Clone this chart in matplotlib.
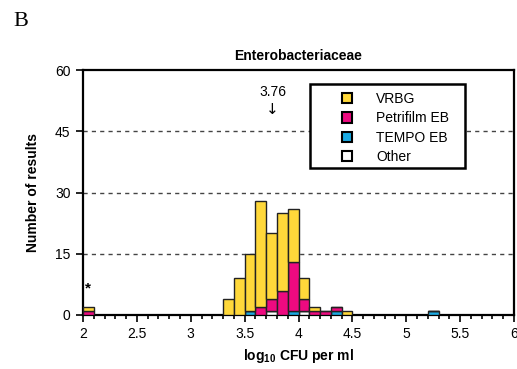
import matplotlib
matplotlib.use('Agg')
import matplotlib.pyplot as plt
from matplotlib.patches import Patch, Rectangle
from matplotlib.ticker import MultipleLocator

plt.rcParams['font.family'] = ['Liberation Sans', 'DejaVu Sans']
plt.rcParams['mathtext.fontset'] = 'custom'
plt.rcParams['mathtext.rm'] = 'Liberation Sans'
plt.rcParams['mathtext.bf'] = 'Liberation Sans:bold'

# left edges of 0.1 log bins
bins = [2.0, 3.3, 3.4, 3.5, 3.6, 3.7, 3.8, 3.9, 4.0, 4.1, 4.2, 4.3, 4.4, 5.2]
other = [0, 0, 0, 0, 0, 1, 0, 0, 1, 0, 0, 0, 0, 0]
tempo = [0, 0, 0, 1, 0, 0, 0, 1, 0, 0, 0, 1, 0, 1]
petrifilm = [1, 0, 0, 0, 2, 3, 6, 12, 3, 1, 1, 1, 0, 0]
vrbg = [1, 4, 9, 14, 26, 16, 19, 13, 5, 1, 0, 0, 1, 0]

median = 3.76
yticks = [0, 15, 30, 45, 60]

c_vrbg = '#FFD83A'
c_petri = '#EE0A80'
c_tempo = '#1AAAE2'
c_other = 'white'

fig = plt.figure(figsize=(5.17, 3.69), dpi=100)
ax = fig.add_axes([83/517, 1-315/369, (514-83)/517, (315-70)/369])

series = [(other, c_other), (tempo, c_tempo), (petrifilm, c_petri), (vrbg, c_vrbg)]
bottom = [0]*len(bins)
for vals, col in series:
    ax.bar(bins, vals, width=0.1, bottom=bottom, align='edge', color=col,
           edgecolor='#222222', linewidth=1.0, zorder=3)
    bottom = [b + v for b, v in zip(bottom, vals)]

ax.set_xlim(2, 6)
ax.set_ylim(0, 60)
ax.xaxis.set_minor_locator(MultipleLocator(0.1))
ax.set_xticks([2, 2.5, 3, 3.5, 4, 4.5, 5, 5.5, 6])
ax.set_xticklabels(['2', '2.5', '3', '3.5', '4', '4.5', '5', '5.5', '6'])
ax.set_yticks(yticks)
ax.tick_params(axis='both', which='major', direction='out', length=5, width=1.2,
               labelsize=10, pad=4)
ax.tick_params(axis='x', which='minor', direction='out', length=3, width=1.2)
for s in ax.spines.values():
    s.set_linewidth(1.6)

for y in [15, 30, 45]:
    ax.axhline(y, color='#444444', linestyle=(0, (3, 3)), linewidth=1.0, zorder=1)

ax.set_title('Enterobacteriaceae', fontsize=10, fontweight='bold', pad=7)
ax.set_ylabel('Number of results', fontsize=10, fontweight='bold', labelpad=11)
ax.set_xlabel(r'log$_{\mathbf{10}}$ CFU per ml', fontsize=10, fontweight='bold', labelpad=4)

ax.text(median, 54.5, '3.76', ha='center', va='center', fontsize=10)
ax.text(median, 50.3, '\u2193', ha='center', va='center', fontsize=11, family='DejaVu Sans')
ax.text(2.05, 6.6, '*', ha='center', va='center', fontsize=11, fontweight='bold')

# legend box
x0 = (310-83)/431
x1 = (465-83)/431
y0 = (315-168)/245
y1 = (315-84)/245
ax.add_patch(Rectangle((x0, y0), x1-x0, y1-y0, transform=ax.transAxes,
                       facecolor='white', edgecolor='black', linewidth=1.8, zorder=5))
handles = [Patch(facecolor=c, edgecolor='black', linewidth=1.5)
           for c in [c_vrbg, c_petri, c_tempo, c_other]]
labels = ['VRBG', 'Petrifilm EB', 'TEMPO EB', 'Other']
leg = ax.legend(handles, labels, loc='upper left', bbox_to_anchor=((342-83)/431, (315-92)/245),
                frameon=False, fontsize=10, handlelength=0.75, handleheight=0.75,
                handletextpad=1.7, labelspacing=0.38, borderpad=0, borderaxespad=0)
leg.set_zorder(6)

fig.text(21/517, 1-22/369, 'B', ha='center', va='center', fontsize=16,
         family='Liberation Serif')

fig.savefig('out.png', dpi=100)
